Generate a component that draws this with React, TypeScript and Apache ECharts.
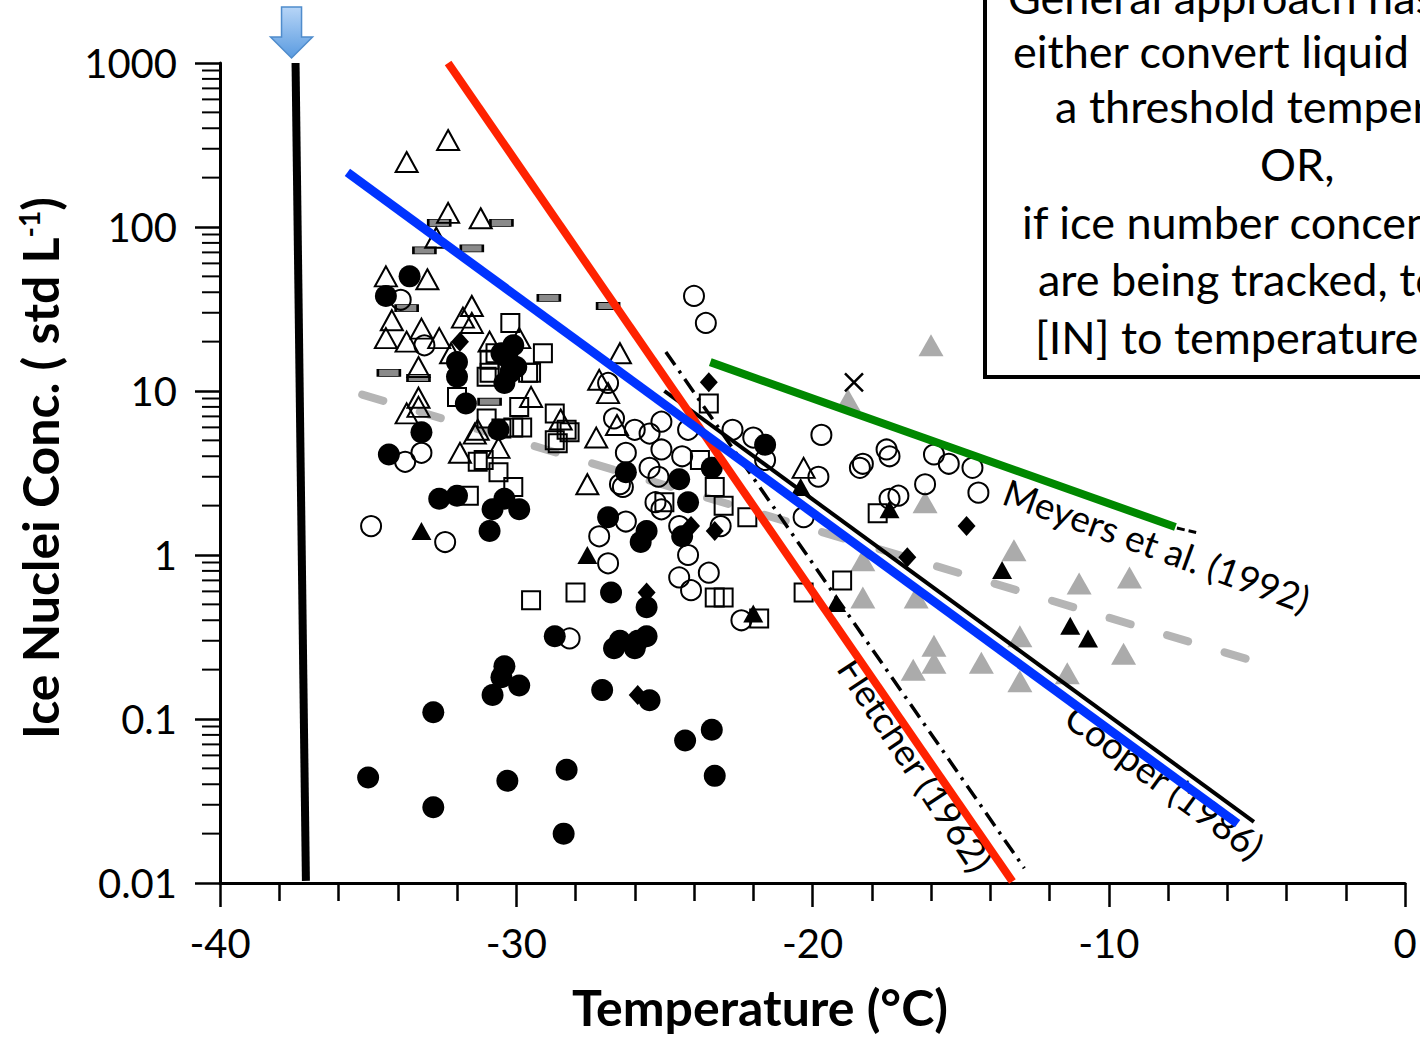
import React, { useEffect, useRef } from "react";
import * as echarts from "echarts";

// ---------- axis ticks ----------
const xTickValues = [-40, -30, -20, -10, 0];
const yTickLabels = ["0.01", "0.1", "1", "10", "100", "1000"];
const yMinorTickValues = [
  0.02, 0.03, 0.04, 0.05, 0.06, 0.07, 0.08, 0.09,
  0.2, 0.3, 0.4, 0.5, 0.6, 0.7, 0.8, 0.9,
  2, 3, 4, 5, 6, 7, 8, 9,
  20, 30, 40, 50, 60, 70, 80, 90,
  200, 300, 400, 500, 600, 700, 800, 900,
];

// ---------- scatter data: [temperature °C, IN conc std L^-1] ----------
const openTriangles = [
  [-32.3, 339], [-33.7, 249], [-32.3, 122], [-31.2, 113], [-32.7, 86], [-34.4, 50], [-33.0, 48],
  [-34.2, 27], [-33.2, 24], [-34.4, 21], [-33.7, 20], [-32.6, 21], [-31.5, 33], [-31.8, 28],
  [-31.5, 26], [-30.9, 20], [-33.3, 14], [-33.3, 9.1], [-33.3, 8.0], [-33.7, 7.3], [-32.2, 17],
  [-29.9, 21], [-29.5, 9.2], [-31.3, 5.8], [-28.5, 6.7], [-31.4, 5.5], [-31.9, 4.2], [-30.6, 4.5],
  [-27.3, 5.2], [-27.6, 2.7], [-26.6, 6.2], [-26.5, 17], [-27.2, 11.7], [-26.9, 9.7], [-20.3, 3.4],
];
const openCircles = [
  [-33.9, 36], [-33.1, 19], [-33.75, 3.7], [-33.2, 4.2], [-34.9, 1.5], [-32.4, 1.2], [-28.2, 0.31],
  [-24.0, 38], [-23.6, 26], [-26.9, 11.2], [-26.7, 6.8], [-26.0, 5.8], [-25.5, 5.5], [-25.1, 6.5],
  [-26.3, 4.2], [-25.1, 4.4], [-24.2, 5.8], [-24.4, 4.0], [-25.5, 3.4], [-25.2, 3.0], [-26.4, 2.6],
  [-22.7, 5.8], [-22.0, 5.2], [-21.6, 3.8], [-19.8, 3.0], [-19.7, 5.4], [-18.4, 3.4], [-18.3, 3.6],
  [-26.3, 1.6], [-25.3, 2.1], [-25.1, 1.9], [-24.5, 1.5], [-23.1, 1.5], [-24.2, 1.0], [-24.5, 0.73],
  [-24.1, 0.61], [-23.5, 0.78], [-22.4, 0.40], [-20.3, 1.7], [-26.9, 0.89], [-27.2, 1.3], [-26.5, 2.7],
  [-17.5, 4.4], [-17.4, 4.0], [-15.9, 4.1], [-15.4, 3.6], [-14.6, 3.4], [-14.4, 2.4], [-16.2, 2.7],
  [-17.1, 2.3], [-17.4, 2.2],
];
const blackCircles = [
  [-33.6, 50], [-34.4, 38], [-32.0, 15], [-32.0, 12.2], [-31.7, 8.4], [-30.3, 16], [-30.1, 19],
  [-30.5, 17], [-30.2, 13], [-30.0, 14], [-30.4, 11.2], [-30.6, 5.8], [-33.2, 5.6], [-34.3, 4.1],
  [-32.6, 2.2], [-32.0, 2.3], [-30.4, 2.2], [-30.8, 1.9], [-29.9, 1.9], [-30.9, 1.4], [-26.3, 3.2],
  [-26.9, 1.7], [-26.8, 0.59], [-28.7, 0.32], [-26.7, 0.27], [-26.0, 0.27], [-27.1, 0.15],
  [-30.4, 0.21], [-30.5, 0.18], [-29.9, 0.16], [-30.8, 0.14], [-32.8, 0.11], [-35.0, 0.044],
  [-32.8, 0.029], [-30.3, 0.042], [-28.3, 0.049], [-28.4, 0.020], [-24.5, 2.9], [-23.4, 3.4],
  [-21.6, 4.7], [-24.2, 2.1], [-24.4, 1.3], [-25.6, 1.4], [-25.6, 0.48], [-25.6, 0.32], [-25.9, 0.30],
  [-26.5, 0.30], [-25.8, 1.2], [-25.5, 0.13], [-24.3, 0.074], [-23.4, 0.086], [-23.3, 0.045],
];
const openSquares = [
  [-30.2, 26], [-29.1, 17], [-29.6, 12.9], [-30.7, 17], [-30.9, 12.9], [-30.9, 15.5], [-31.0, 12.2],
  [-29.5, 12.9], [-32.0, 9.2], [-29.9, 8.0], [-28.7, 7.3], [-28.3, 5.8], [-28.7, 5.0], [-30.1, 6.0],
  [-31.0, 6.8], [-31.3, 3.7], [-31.1, 3.8], [-30.6, 3.2], [-30.1, 2.6], [-31.6, 2.3], [-29.5, 0.53],
  [-28.0, 0.59], [-28.6, 4.8], [-28.2, 5.6], [-29.8, 6.0], [-30.5, 5.9], [-23.5, 8.4], [-23.3, 2.6],
  [-23.0, 2.0], [-22.2, 1.7], [-25.0, 2.1], [-23.8, 3.8], [-23.3, 0.55], [-23.0, 0.55], [-21.8, 0.41],
  [-20.3, 0.59], [-19.0, 0.70], [-17.8, 1.8],
];
const grayDashes = [
  [-32.6, 106], [-30.5, 106], [-33.1, 72], [-31.5, 74], [-33.7, 32], [-28.9, 37], [-26.9, 33],
  [-34.3, 12.9], [-33.3, 12], [-30.9, 8.6],
];
const blackDiamonds = [
  [-31.9, 20], [-23.5, 11.3], [-23.3, 1.4], [-24.1, 1.5], [-25.6, 0.59], [-25.9, 0.14],
  [-14.8, 1.5], [-16.8, 0.97],
];
const blackTriangles = [
  [-33.2, 1.4], [-27.6, 1.0], [-22.0, 0.44], [-19.2, 0.51], [-17.4, 1.9], [-13.6, 0.81],
  [-11.3, 0.37], [-10.7, 0.31], [-20.4, 2.6],
];
const grayTriangles = [
  [-16.0, 19], [-18.8, 8.8], [-16.2, 2.1], [-13.2, 1.07], [-18.3, 0.93], [-18.3, 0.55], [-16.5, 0.55],
  [-11.0, 0.67], [-9.3, 0.73], [-15.9, 0.28], [-16.6, 0.20], [-15.9, 0.22], [-14.3, 0.22],
  [-13.0, 0.32], [-13.0, 0.17], [-11.4, 0.19], [-9.5, 0.25],
];
const crossMarks = [[-18.6, 11.3]];

// ---------- lines ----------
const homogeneousLimit = [[-37.45, 1000], [-37.1, 0.0103]];
const redFit = [[-32.3, 1000], [-13.25, 0.0102]];
const blueFit = [[-35.7, 215], [-5.65, 0.023]];
const greenFit = [[-23.45, 15], [-7.75, 1.48]];
const grayDashedFit = [[-35.2, 9.5], [-4.9, 0.22]];
const cooper1986 = [[-25.0, 10], [-5.1, 0.0236]];
const fletcher1962 = [[-24.95, 17.3], [-12.85, 0.0123]];
const meyersTail = [[-7.7, 1.46], [-7.05, 1.37]];

// ---------- texts ----------
const boxLines = [
  "General approach has been to",
  "either convert liquid to ice below",
  "a threshold temperature",
  "OR,",
  "if ice number concentrations",
  "are being tracked, to relate",
  "[IN] to temperature.",
];
const boxLineX = [1008, 1013, 1055, 1260, 1022, 1038, 1035];
const boxLineBaseline = [13, 67, 122, 180, 238, 295, 353];

const FONT = "Lato";

function scatter(data: number[][], symbol: string, size: any, itemStyle: any, z = 3) {
  return {
    type: "scatter",
    data,
    symbol,
    symbolSize: size,
    itemStyle: { opacity: 1, ...itemStyle },
    z,
    silent: true,
    emphasis: { disabled: true },
  };
}
function line(data: number[][], color: string, width: number, type: any, z: number, cap = "butt") {
  return {
    type: "line",
    data,
    showSymbol: false,
    symbol: "none",
    lineStyle: { color, width, type, cap, opacity: 1 },
    z,
    silent: true,
    emphasis: { disabled: true },
  };
}

const openStyle = { color: "rgba(0,0,0,0)", borderColor: "#000", borderWidth: 2 };

export default function App() {
  const ref = useRef<HTMLDivElement>(null);
  useEffect(() => {
    const chart = echarts.init(ref.current!, null, { renderer: "svg" });
    chart.setOption({
      animation: false,
      grid: { left: 220, right: 15, top: 63, bottom: 155 },
      xAxis: {
        type: "value",
        min: xTickValues[0],
        max: xTickValues[xTickValues.length - 1],
        interval: 10,
        axisLine: { show: true, onZero: false, lineStyle: { color: "#000", width: 3 } },
        axisTick: { show: true, inside: false, length: 24, lineStyle: { color: "#000", width: 2.5 } },
        minorTick: { show: true, splitNumber: 5, length: 18, lineStyle: { color: "#000", width: 2.5 } },
        axisLabel: { color: "#000", fontSize: 40, fontFamily: FONT, margin: 40 },
        splitLine: { show: false },
      },
      yAxis: {
        type: "log",
        logBase: 10,
        min: 0.01,
        max: 1000,
        position: "left",
        axisLine: { show: true, onZero: false, lineStyle: { color: "#000", width: 3 } },
        axisTick: { show: true, inside: false, length: 25, lineStyle: { color: "#000", width: 2.5 } },
        axisLabel: {
          color: "#000",
          fontSize: 40,
          fontFamily: FONT,
          margin: 43,
          formatter: (v: number) => yTickLabels[Math.round(Math.log10(v)) + 2],
        },
        splitLine: { show: false },
      },
      series: [
        line(grayDashedFit, "#b5b5b5", 8, [22, 38], 1, "round"),
        scatter(grayTriangles, "triangle", [25, 22], { color: "#ababab" }, 2),
        scatter(grayDashes, "rect", [22, 7], { color: "#8a8a8a", borderColor: "#000", borderWidth: 1.5 }, 3),
        scatter(openTriangles, "triangle", [22, 20], openStyle, 3),
        scatter(openSquares, "rect", [18, 18], openStyle, 3),
        scatter(openCircles, "circle", 20, openStyle, 3),
        scatter(blackCircles, "circle", 22, { color: "#000" }, 3),
        scatter(blackDiamonds, "diamond", [18, 20], { color: "#000" }, 3),
        scatter(blackTriangles, "triangle", [20, 18], { color: "#000" }, 3),
        scatter(crossMarks, "path://M0,0L10,10M10,0L0,10", 18, { color: "rgba(0,0,0,0)", borderColor: "#000", borderWidth: 2.5 }, 3),
        line(cooper1986, "#000", 4, "solid", 4),
        line(fletcher1962, "#000", 3.5, [16, 7, 3, 7], 4),
        line(meyersTail, "#000", 3, [8, 4], 4),
        line(redFit, "#ff2200", 8, "solid", 6),
        line(blueFit, "#0033ff", 9, "solid", 7),
        line(greenFit, "#008800", 8, "solid", 7),
        line(homogeneousLimit, "#000", 8, "solid", 7),
      ],
    });

    const toPx = (p: number[]) => chart.convertToPixel({ xAxisIndex: 0, yAxisIndex: 0 }, p) as number[];
    const top = toPx(homogeneousLimit[0]);
    const cx = top[0] - 4;
    const arrowPts = [
      [cx - 10, 7], [cx + 10, 7], [cx + 10, 37], [cx + 21, 37], [cx, 58], [cx - 21, 37], [cx - 10, 37],
    ];
    const minorTicks = yMinorTickValues.map((v) => {
      const p = toPx([xTickValues[0], v]);
      return {
        type: "line",
        shape: { x1: p[0] - 18, y1: p[1], x2: p[0], y2: p[1] },
        style: { stroke: "#000", lineWidth: 2 },
        z: 10,
      };
    });
    const fs = 45;
    const graphic: any[] = [
      ...minorTicks,
      {
        type: "polygon",
        shape: { points: arrowPts },
        style: {
          fill: new echarts.graphic.LinearGradient(0, 0, 0, 1, [
            { offset: 0, color: "#b7d5f7" },
            { offset: 1, color: "#5a9be0" },
          ]),
          stroke: "#4f8ccc",
          lineWidth: 1.5,
        },
        z: 60,
      },
      {
        type: "rect",
        shape: { x: 985, y: -20, width: 800, height: 397 },
        style: { fill: "#fff", stroke: "#000", lineWidth: 4 },
        z: 50,
      },
      ...boxLines.map((t, i) => ({
        type: "text",
        x: boxLineX[i],
        y: boxLineBaseline[i] - fs * 0.36,
        style: { text: t, fill: "#000", fontSize: fs, fontFamily: FONT, textAlign: "left", textVerticalAlign: "middle" },
        z: 51,
      })),
      {
        type: "text",
        x: 760,
        y: 1007,
        style: {
          text: "Temperature (°C)",
          fill: "#000",
          fontSize: 50,
          fontWeight: "bold",
          fontFamily: FONT,
          textAlign: "center",
          textVerticalAlign: "middle",
        },
        z: 20,
      },
      {
        type: "text",
        x: 40,
        y: 468,
        rotation: Math.PI / 2,
        style: {
          text: "{a|Ice Nuclei Conc. ( std L}{s|-1}{a|)}",
          rich: {
            a: { fontSize: 50, fontWeight: "bold", fontFamily: FONT, fill: "#000" },
            s: { fontSize: 28, fontWeight: "bold", fontFamily: FONT, fill: "#000", verticalAlign: "top" },
          },
          textAlign: "center",
          textVerticalAlign: "middle",
        },
        z: 20,
      },
      {
        type: "text",
        x: 1157,
        y: 545,
        rotation: (-20 * Math.PI) / 180,
        style: { text: "Meyers et al. (1992)", fill: "#000", fontSize: 37, fontFamily: FONT, textAlign: "center", textVerticalAlign: "middle" },
        z: 5,
      },
      {
        type: "text",
        x: 1165,
        y: 781,
        rotation: (-36 * Math.PI) / 180,
        style: { text: "Cooper (1986)", fill: "#000", fontSize: 37, fontFamily: FONT, textAlign: "center", textVerticalAlign: "middle" },
        z: 5,
      },
      {
        type: "text",
        x: 916,
        y: 764,
        rotation: (-56.5 * Math.PI) / 180,
        style: { text: "Fletcher (1962)", fill: "#000", fontSize: 37, fontFamily: FONT, textAlign: "center", textVerticalAlign: "middle" },
        z: 5,
      },
    ];
    chart.setOption({ graphic });
    return () => chart.dispose();
  }, []);
  return <div ref={ref} style={{ position: "absolute", left: 0, top: 0, width: 1420, height: 1038, background: "#fff" }} />;
}
